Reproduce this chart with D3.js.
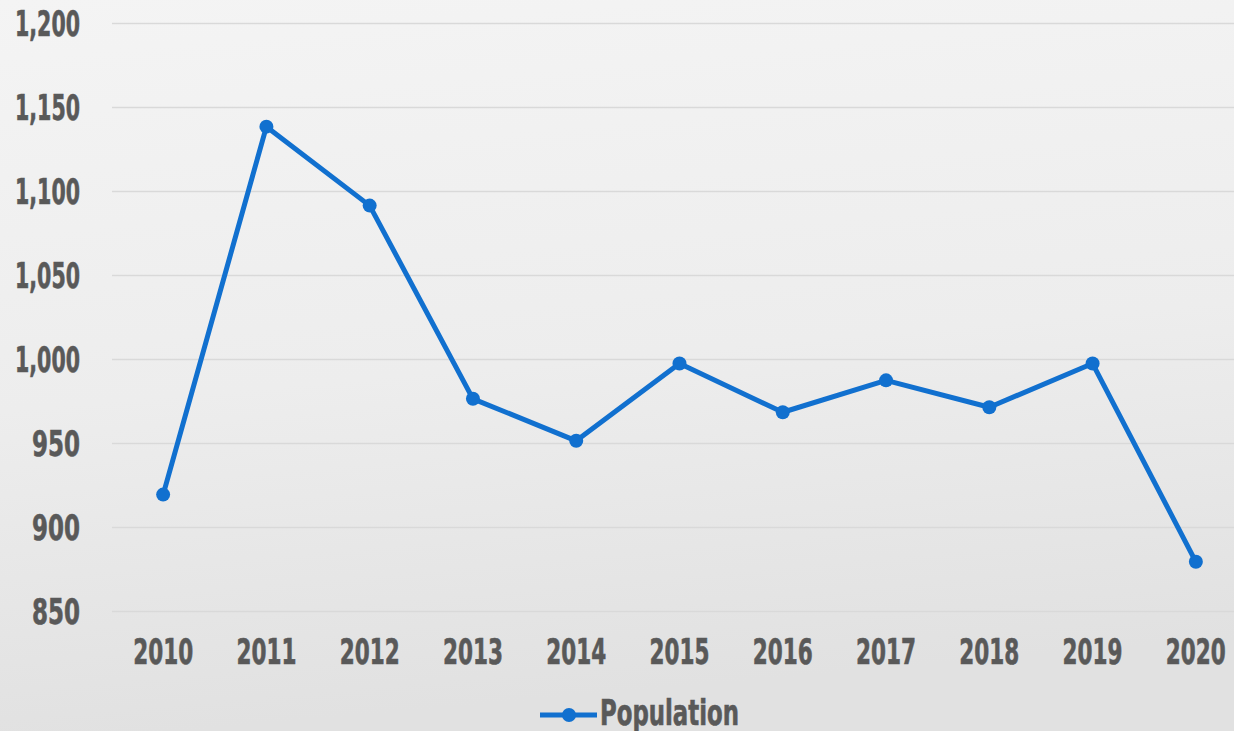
<!DOCTYPE html>
<html><head><meta charset="utf-8">
<script src="https://cdn.jsdelivr.net/npm/d3@7"></script>
<style>
html,body{margin:0;padding:0;background:#ececec;}
svg{display:block;}
</style></head>
<body>
<svg id="chart" width="1234" height="731"></svg>
<script>
const years = ["2010","2011","2012","2013","2014","2015","2016","2017","2018","2019","2020"];
const population = [919, 1138, 1091, 976, 951, 997, 968, 987, 971, 997, 879];
const yTicks = [850, 900, 950, 1000, 1050, 1100, 1150, 1200];
const seriesName = "Population";

const W = 1234, H = 731;
const svg = d3.select("#chart");
const defs = svg.append("defs");
const grad = defs.append("linearGradient").attr("id","bg").attr("x1",0).attr("y1",0).attr("x2",0.15).attr("y2",1);
grad.append("stop").attr("offset","0%").attr("stop-color","#f4f4f4");
grad.append("stop").attr("offset","55%").attr("stop-color","#ededed");
grad.append("stop").attr("offset","100%").attr("stop-color","#e1e1e1");
svg.append("rect").attr("width",W).attr("height",H).attr("fill","url(#bg)");

const font = "'Liberation Sans Narrow','DejaVu Sans Condensed','Arial Narrow',sans-serif";
const textColor = "#595959";

const x = d3.scaleBand().domain(years).range([111.5, 1247.5]);
const y = d3.scaleLinear().domain([850, 1200]).range([610.5, 22.5]);
const cx = d => x(d) + x.bandwidth()/2;

// gridlines
svg.append("g").selectAll("line").data(yTicks).join("line")
  .attr("x1", 112).attr("x2", W)
  .attr("y1", d => Math.round(y(d)) + 0.5).attr("y2", d => Math.round(y(d)) + 0.5)
  .attr("stroke", "#d9d9d9").attr("stroke-width", 1.5);

function styleText(sel){
  sel.attr("fill", textColor).attr("stroke", textColor).attr("stroke-width", 0.6)
    .attr("font-family", font).attr("font-weight","bold").attr("font-size", 35)
    .attr("lengthAdjust","spacingAndGlyphs");
}

// y axis labels
const fmt = d3.format(",");
const yAxis = d3.axisLeft(y).tickValues(yTicks).tickFormat(fmt).tickSize(0).tickPadding(0);
const yg = svg.append("g").attr("transform","translate(80,0)").call(yAxis);
yg.select(".domain").remove();
yg.selectAll("text").call(styleText).attr("dy","0.36em")
  .attr("textLength", d => d >= 1000 ? 65 : 48);

// x axis labels
const xAxis = d3.axisBottom(x).tickSize(0).tickPadding(0);
const xg = svg.append("g").attr("transform","translate(0,651)").call(xAxis);
xg.select(".domain").remove();
xg.selectAll("text").call(styleText).attr("dy","0.36em").attr("textLength", 60);

// line
const line = d3.line().x((d,i) => cx(years[i])).y(d => y(d));
svg.append("path").datum(population).attr("d", line)
  .attr("fill","none").attr("stroke","#1170cf").attr("stroke-width",5)
  .attr("stroke-linejoin","round");
svg.append("g").selectAll("circle").data(population).join("circle")
  .attr("cx", (d,i) => cx(years[i])).attr("cy", d => y(d)).attr("r", 7)
  .attr("fill","#1170cf");

// legend
const lg = svg.append("g");
lg.append("line").attr("x1",540).attr("x2",597).attr("y1",715).attr("y2",715)
  .attr("stroke","#1170cf").attr("stroke-width",5);
lg.append("circle").attr("cx",569).attr("cy",715).attr("r",7).attr("fill","#1170cf");
lg.append("text").attr("x",600).attr("y",725).text(seriesName)
  .call(styleText).attr("textLength",139);
</script>
</body></html>
